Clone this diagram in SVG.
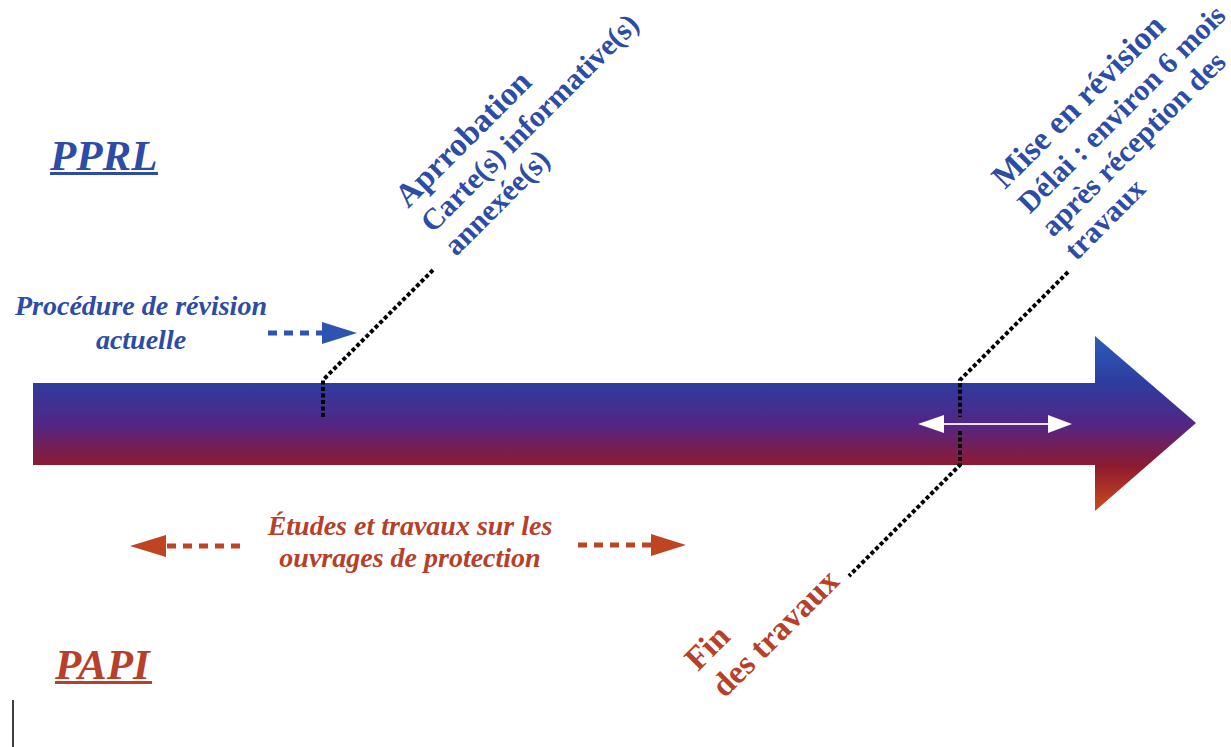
<svg xmlns="http://www.w3.org/2000/svg" width="1231" height="747" viewBox="0 0 1231 747">
<style>
.blue{fill:#2c4ca6}
.red{fill:#b6402a}
.title{font-family:"Liberation Serif",serif;font-weight:bold;font-style:italic;font-size:43px}
.lab{font-family:"Liberation Serif",serif;font-weight:bold;font-style:italic;font-size:28px}
.rot{font-family:"Liberation Serif",serif;font-weight:bold;font-size:30px}
.big{font-size:33px}
.dot{fill:none;stroke:#000;stroke-width:4;stroke-dasharray:4 2.5}
.dashB{fill:none;stroke:#2c54b0;stroke-width:5;stroke-dasharray:9 7}
.dashR{fill:none;stroke:#bf4422;stroke-width:5;stroke-dasharray:9 7}
</style>
<defs>
<linearGradient id="g" gradientUnits="userSpaceOnUse" x1="0" y1="336" x2="0" y2="511">
<stop offset="0" stop-color="#2b5cb8"/>
<stop offset="0.27" stop-color="#2e3c9e"/>
<stop offset="0.5" stop-color="#522686"/>
<stop offset="0.74" stop-color="#8c1a30"/>
<stop offset="1" stop-color="#cc4a1c"/>
</linearGradient>
</defs>
<rect width="1231" height="747" fill="#fff"/>
<g id="timeline">
<polygon points="33,383 1095,383 1095,336 1196,423 1095,511 1095,465 33,465" fill="url(#g)"/>
</g>
<g id="pprl">
<text class="title blue" x="50" y="170">PPRL</text>
<rect x="50" y="172" width="108" height="3" class="blue"/>
</g>
<g id="papi">
<text class="title red" x="55" y="679">PAPI</text>
<rect x="55" y="681" width="97" height="3" class="red"/>
</g>
<line x1="13" y1="700" x2="13" y2="747" stroke="#000" stroke-width="1.5"/>
<g id="procedure">
<text class="lab blue" text-anchor="middle" x="141" y="315">Procédure de révision</text>
<text class="lab blue" text-anchor="middle" x="141" y="349">actuelle</text>
</g>
<g id="etudes">
<text class="lab red" text-anchor="middle" x="410" y="535">Études et travaux sur les</text>
<text class="lab red" text-anchor="middle" x="410" y="567">ouvrages de protection</text>
</g>
<g id="approbation" transform="translate(408,209) rotate(-45)">
<text class="rot big blue" x="0" y="0">Aprrobation</text>
<text class="rot blue" x="0" y="35">Carte(s) informative(s)</text>
<text class="rot blue" x="0" y="68">annexée(s)</text>
</g>
<g id="revision" transform="translate(1005,190) rotate(-45)">
<text class="rot big blue" x="0" y="0">Mise en révision</text>
<text class="rot blue" x="0" y="35">Délai : environ 6 mois</text>
<text class="rot blue" x="0" y="68">après réception des</text>
<text class="rot blue" x="0" y="101">travaux</text>
</g>
<g id="fin" transform="translate(698,672) rotate(-45)">
<text class="rot big red" x="0" y="0">Fin</text>
<text class="rot big red" x="0" y="38">des travaux</text>
</g>
<g id="connectors">
<polyline class="dot" points="433,270 323,380 323,418"/>
<polyline class="dot" points="1068,272 960,380 960,417"/>
<polyline class="dot" points="960,431 960,465 849,576"/>
<line class="dashB" x1="268" y1="333" x2="322" y2="333"/>
<polygon points="322,322 357,333 322,344" fill="#2c54b0"/>
<line class="dashR" x1="240" y1="546" x2="166" y2="546"/>
<polygon points="166,535 130,546 166,557" fill="#bf4422"/>
<line class="dashR" x1="578" y1="545" x2="651" y2="545"/>
<polygon points="651,534 686,545 651,556" fill="#bf4422"/>
<line x1="942" y1="424" x2="1050" y2="424" stroke="#f2dcef" stroke-width="2"/>
<polygon points="944,415 918,424 944,433" fill="#fff"/>
<polygon points="1048,415 1072,424 1048,433" fill="#fff"/>
</g>
</svg>
